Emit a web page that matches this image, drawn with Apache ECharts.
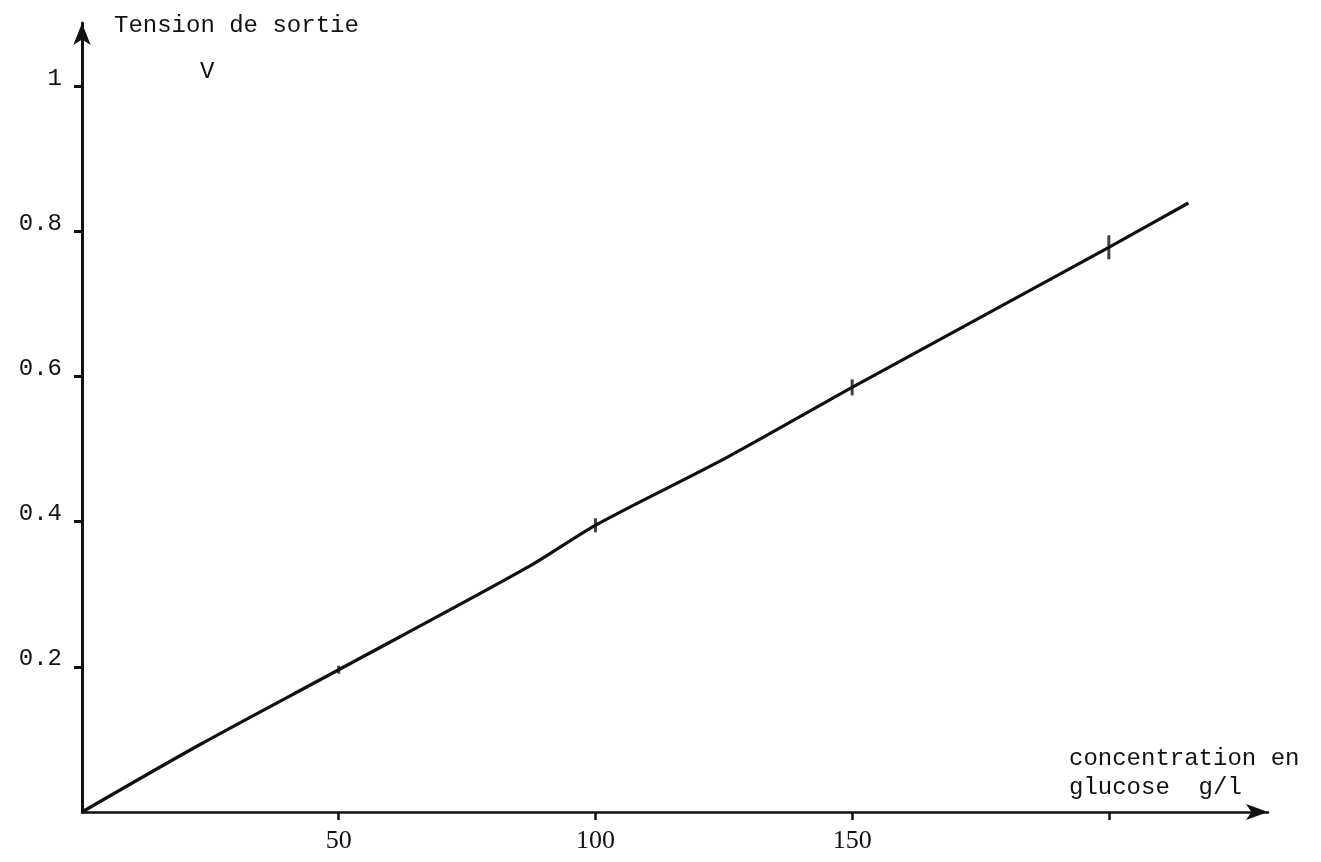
<!DOCTYPE html>
<html>
<head>
<meta charset="utf-8">
<script src="https://cdn.jsdelivr.net/npm/echarts@6/dist/echarts.min.js"></script>
<style>
html,body{margin:0;padding:0;background:#fff;}
#chart{width:1321px;height:862px;}
</style>
</head>
<body>
<div id="chart"></div>
<script>
// Data
const concentration = [0, 23, 50, 87, 100, 126, 150, 200, 215.5];
const tension = [0, 0.093, 0.196, 0.338, 0.395, 0.49, 0.585, 0.778, 0.839];
const markerConcentration = [50, 100, 150, 200];
const markerTension = [0.196, 0.395, 0.585, 0.778];
const xTickValues = [50, 100, 150, 200];
const xLabelValues = [50, 100, 150];
const yTickValues = [0.2, 0.4, 0.6, 0.8, 1];
const yTitle = 'Tension de sortie';
const yUnit = 'V';
const xTitle = 'concentration en\nglucose  g/l';

const ink = '#111';
const chart = echarts.init(document.getElementById('chart'), null, {renderer: 'canvas'});
chart.setOption({
  backgroundColor: '#fff',
  animation: false,
  grid: {left: 82, right: 53, top: 23, bottom: 50, containLabel: false},
  xAxis: {
    type: 'value', min: 0, max: 231,
    axisLine: {show: true, onZero: false, symbol: ['none', 'arrow'], symbolSize: [12, 22],
      lineStyle: {color: ink, width: 2.5}},
    axisTick: {show: true, inside: false, length: 8, customValues: xTickValues,
      lineStyle: {color: ink, width: 2.5}},
    axisLabel: {show: true, customValues: xLabelValues, margin: 16,
      fontFamily: 'Liberation Serif', fontSize: 26, color: ink},
    splitLine: {show: false}
  },
  yAxis: {
    type: 'value', min: 0, max: 1.087,
    axisLine: {show: true, onZero: false, symbol: ['none', 'arrow'], symbolSize: [13, 22],
      lineStyle: {color: ink, width: 3}},
    axisTick: {show: true, inside: false, length: 8, customValues: yTickValues,
      lineStyle: {color: ink, width: 3}},
    axisLabel: {show: true, customValues: yTickValues, margin: 20,
      verticalAlign: 'bottom', lineHeight: 16,
      fontFamily: 'Liberation Mono', fontSize: 24, color: ink,
      formatter: v => (v === 1 ? '1' : v.toFixed(1))},
    splitLine: {show: false}
  },
  series: [
    {
      type: 'line',
      data: concentration.map((c, i) => [c, tension[i]]),
      showSymbol: false,
      smooth: 0.3,
      lineStyle: {color: ink, width: 3.2},
      z: 3
    },
    {
      type: 'scatter',
      data: markerConcentration.map((c, i) => [c, markerTension[i]]),
      symbol: 'rect',
      symbolSize: (val, p) => [3, [8, 14, 16, 24][p.dataIndex]],
      itemStyle: {color: ink},
      z: 4
    }
  ],
  graphic: [
    {type: 'text', left: 114, top: 14,
      style: {text: yTitle, font: '24px "Liberation Mono"', fill: ink}},
    {type: 'text', left: 200, top: 60,
      style: {text: yUnit, font: '24px "Liberation Mono"', fill: ink}},
    {type: 'text', left: 1069, top: 744,
      style: {text: xTitle, font: '24px "Liberation Mono"', fill: ink, lineHeight: 29}}
  ]
});
</script>
</body>
</html>
